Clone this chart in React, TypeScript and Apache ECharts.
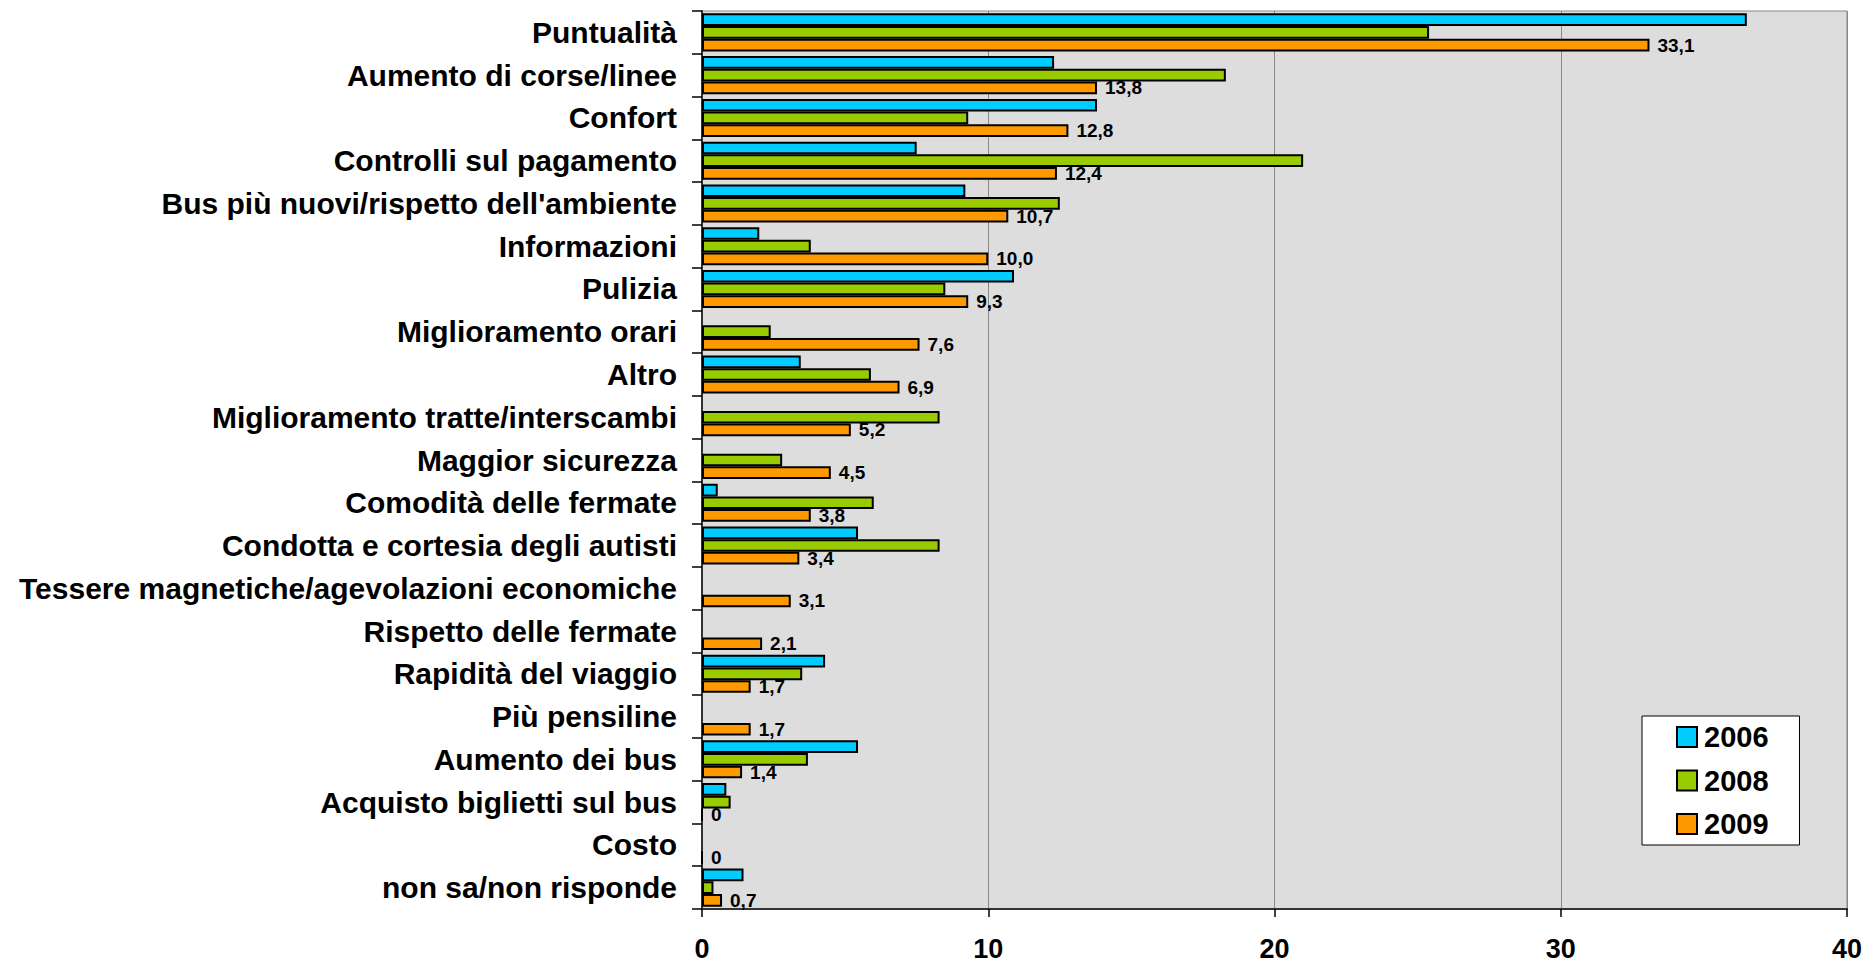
import React, { useEffect, useRef } from "react";
import * as echarts from "echarts";

const categories = [
  "Puntualità",
  "Aumento di corse/linee",
  "Confort",
  "Controlli sul pagamento",
  "Bus più nuovi/rispetto dell'ambiente",
  "Informazioni",
  "Pulizia",
  "Miglioramento orari",
  "Altro",
  "Miglioramento tratte/interscambi",
  "Maggior sicurezza",
  "Comodità delle fermate",
  "Condotta e cortesia degli autisti",
  "Tessere magnetiche/agevolazioni economiche",
  "Rispetto delle fermate",
  "Rapidità del viaggio",
  "Più pensiline",
  "Aumento dei bus",
  "Acquisto biglietti sul bus",
  "Costo",
  "non sa/non risponde",
];

const values2006: (number | null)[] = [
  36.5, 12.3, 13.8, 7.5, 9.2, 2.0, 10.9, null, 3.45, null, null, 0.55, 5.45, null, null, 4.3, null, 5.45, 0.85, null, 1.45,
];
const values2008: (number | null)[] = [
  25.4, 18.3, 9.3, 21.0, 12.5, 3.8, 8.5, 2.4, 5.9, 8.3, 2.8, 6.0, 8.3, null, null, 3.5, null, 3.7, 1.0, null, 0.4,
];
const values2009: (number | null)[] = [
  33.1, 13.8, 12.8, 12.4, 10.7, 10.0, 9.3, 7.6, 6.9, 5.2, 4.5, 3.8, 3.4, 3.1, 2.1, 1.7, 1.7, 1.4, 0, 0, 0.7,
];

const seriesNames = ["2006", "2008", "2009"];
const seriesColors = ["#00CCFF", "#99CC00", "#FF9900"];
const xTicks = [0, 10, 20, 30, 40];

const FONT = "'Liberation Sans', Arial, Helvetica, sans-serif";

export default function App() {
  const ref = useRef<HTMLDivElement>(null);

  useEffect(() => {
    if (!ref.current) return;
    const chart = echarts.init(ref.current, undefined, { renderer: "svg" });
    const allValues = [values2006, values2008, values2009];
    const series = seriesNames.map((name, i) => ({
      name,
      type: "bar",
      data: allValues[i],
      barGap: "0%",
      barCategoryGap: "11%",
      itemStyle: {
        color: seriesColors[i],
        borderColor: "#000000",
        borderWidth: 2,
      },
      label:
        i === 2
          ? {
              show: true,
              position: "right",
              distance: 8,
              color: "#000",
              fontFamily: FONT,
              fontWeight: "bold",
              fontSize: 19,
              formatter: (p: any) => {
                const v = p.value as number;
                if (v === 0) return "0";
                return v.toFixed(1).replace(".", ",");
              },
            }
          : { show: false },
    }));

    chart.setOption({
      animation: false,
      backgroundColor: "#ffffff",
      textStyle: { fontFamily: FONT },
      grid: {
        left: 702,
        top: 11,
        width: 1145,
        height: 899,
        show: true,
        backgroundColor: "#DDDDDD",
        borderColor: "#888888",
        borderWidth: 1,
        containLabel: false,
      },
      legend: {
        orient: "vertical",
        left: 1642,
        top: 716,
        data: seriesNames.map((n) => ({ name: n, icon: "rect" })),
        backgroundColor: "#ffffff",
        borderColor: "#000000",
        borderWidth: 1,
        padding: [6, 31, 6, 34],
        itemWidth: 20,
        itemHeight: 20,
        itemGap: 13.5,
        itemStyle: { borderColor: "#000", borderWidth: 2 },
        textStyle: {
          fontFamily: FONT,
          fontWeight: "bold",
          fontSize: 29,
          lineHeight: 30,
          color: "#000",
          padding: [0, 0, 0, 2],
        },
      },
      xAxis: {
        type: "value",
        min: xTicks[0],
        max: xTicks[xTicks.length - 1],
        interval: 10,
        axisLine: { show: true, lineStyle: { color: "#333333", width: 2 } },
        axisTick: { show: true, length: 8, lineStyle: { color: "#000", width: 1.5 } },
        splitLine: { show: true, lineStyle: { color: "#888888", width: 1 } },
        axisLabel: {
          fontFamily: FONT,
          fontWeight: "bold",
          fontSize: 27,
          color: "#000",
          margin: 26,
        },
      },
      yAxis: {
        type: "category",
        data: categories,
        inverse: true,
        axisLine: { show: true, lineStyle: { color: "#333333", width: 2 } },
        axisTick: { show: true, length: 10, lineStyle: { color: "#000", width: 1.5 } },
        splitLine: { show: false },
        axisLabel: {
          fontFamily: FONT,
          fontWeight: "bold",
          fontSize: 30,
          color: "#000",
          margin: 25,
        },
      },
      series,
    });

    return () => chart.dispose();
  }, []);

  return (
    <div
      ref={ref}
      style={{ position: "absolute", left: 0, top: 0, width: 1867, height: 962 }}
    />
  );
}
